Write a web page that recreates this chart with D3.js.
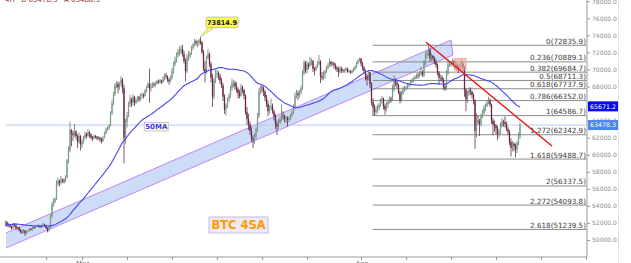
<!DOCTYPE html>
<html><head><meta charset="utf-8">
<script src="https://cdn.jsdelivr.net/npm/d3@7/dist/d3.min.js"></script>
<style>body{margin:0;background:#fff;} svg{display:block;}</style>
</head><body><svg id="c" width="631" height="263"></svg>
<script>
// ---------- data ----------
const startTime = "2024-02-21T12:00:00Z"; // first 4h candle
const open0 = 51900;
const closes = [
52100,51700,51800,
51600,51400,51900,51700,51300,51500,
51200,51000,50900,51100,50800,51000,
51100,51300,51200,51500,51400,51600,
51700,51600,51500,51700,51800,51700,
51400,51100,51500,52800,54200,54500,
54800,56600,56900,56700,57100,57000,
56900,57400,59300,60500,62900,62500,
62300,62700,62200,61500,62200,61200,
61500,62000,62400,62200,62600,62400,
62000,61900,62200,62100,61900,62000,
61800,61600,62000,62500,63000,63100,
63400,64800,66000,67100,68200,68300,
67900,68300,68800,67800,62000,63800,
64600,65900,66500,66100,66800,66100,
66400,66700,66500,66900,67000,66900,
67500,67900,68300,67800,68000,68300,
68200,68400,68600,68500,68700,68500,
68900,69300,69200,68800,68600,69000,
69800,70600,71100,71700,72100,72100,
72400,71800,71000,69800,71500,71500,
71900,72500,72900,73300,73100,73100,
73400,73200,72000,70100,69600,71400,
71800,70600,69000,66800,68700,69500,
69600,69200,68700,68100,66800,65300,
65800,66500,66900,67800,68400,68400,
68000,67700,67200,66900,67900,67600,
66900,65000,64200,63600,62800,61900,
61700,62100,62900,64500,67400,67900,
67800,67400,66700,66000,65100,65500,
65700,65100,64500,63600,63300,63800,
64100,64600,64500,64200,64300,64100,
64300,64600,64900,65500,66900,67200,
67000,67300,67800,69500,70800,69900,
70600,70400,70900,71000,70100,69950,
70300,70700,70900,69200,69000,69450,
69800,70200,70500,70900,70600,70750,
70500,70200,70000,69700,70100,69900,
69800,69900,70100,69700,69800,69650,
69800,70000,70300,70700,71000,71300,
70700,70200,69800,69200,68800,69700,
68300,66200,65500,65000,65300,65450,
65800,66300,66600,65700,65300,65950,
66200,66600,66500,67600,68700,68500,
68200,67300,66400,67200,67700,67800,
67900,68100,68200,68500,68700,68900,
69100,69300,69200,69500,69700,69350,
70900,71700,71900,72300,71300,71600,
71300,70900,70500,69600,69000,69100,
68800,68000,67800,69500,70600,70600,
70600,70900,70500,70600,70300,70000,
70600,70700,70200,67600,66500,67100,
67600,67400,67000,66300,62800,64000,
63900,63600,64500,64900,65500,65700,
66100,66400,65900,64000,63600,63400,
63100,62400,62600,63300,63900,63800,
63600,63000,62700,61500,60800,61300,
61000,60600,61400,62100,63478.3];
const highs = [
52300,52200,52000,
51900,51700,52000,52000,51800,51600,
51600,51300,51200,51300,51200,51100,
51200,51400,51400,51600,51600,51700,
51800,51800,51700,51800,52000,51900,
51800,51500,51700,53000,54500,54900,
55000,57000,57300,57100,57500,57200,
57200,57600,59500,61000,63900,63000,
62800,63600,62900,62400,62600,62300,
61800,62200,62700,62600,63000,62800,
62500,62200,62400,62300,62200,62200,
62100,62000,62200,62700,63200,63300,
63600,65100,66400,67400,68400,68600,
68600,68500,69200,69000,68200,64200,
65000,66200,67000,66700,67100,66900,
66600,66900,66900,67200,67300,67200,
67700,68100,68500,70100,68400,68500,
68500,68600,68800,68800,68900,68800,
69200,69500,69600,69300,69000,69300,
70200,70900,71500,72000,72400,72700,
72800,72900,72200,71300,71800,72200,
72100,72800,73100,73600,73500,73400,
73600,73814.9,73300,72300,71000,71600,
72400,72000,70900,69500,69000,70000,
70000,69800,69500,69000,68400,67100,
66000,66700,67200,68100,68900,68700,
68700,68500,67900,67600,68300,68100,
67700,67100,65600,64800,63900,63200,
62300,62500,63200,64900,67800,68100,
68200,68000,67600,67000,66400,65800,
66600,66000,65300,64800,64000,64200,
64500,65900,65100,64700,64600,64500,
64500,64800,65200,65900,67300,67600,
67500,67600,68100,69900,71100,71000,
71000,70800,71500,71300,71100,70300,
70500,71000,71700,71100,69700,69800,
70000,70400,70800,71300,71000,70900,
70900,70700,70400,70300,70400,70300,
70100,70100,70300,70200,70000,69900,
70000,70200,70500,70900,71200,71400,
71300,70900,70400,70000,69500,69900,
69700,68500,66600,65900,65700,65900,
66100,66600,66900,66700,66000,66200,
66500,66800,66800,68200,69300,69000,
68700,68300,67500,67500,68000,68100,
68100,68300,68400,68800,69000,69100,
69300,69500,69600,69800,70300,69900,
71100,72000,72300,72835.9,72600,71900,
71700,71500,71200,70700,69800,69400,
69300,69000,68400,69900,71200,70900,
71000,71300,71100,71000,70800,70500,
70800,71200,70900,70400,67800,67500,
67900,67900,67500,67200,66500,64900,
64600,64200,64800,65300,65800,66000,
66400,66800,66600,66000,64300,64000,
63600,63400,63000,63800,64300,64100,
64500,63900,63300,62900,61900,61600,
61500,61300,61600,62600,63800];
const lows = [
51600,51500,51500,
51400,51200,51300,51500,51200,51200,
51000,50800,50700,50800,50500,50700,
50900,51000,51100,51100,51300,51300,
51500,51500,51400,51400,51600,51600,
51300,50900,51000,51400,52600,53900,
54300,54700,56300,56300,56500,56700,
56600,56800,57200,59000,60300,61000,
61600,62100,61800,60800,61300,60500,
60800,61300,61800,61900,62100,62000,
61800,61600,61800,61900,61700,61700,
61500,61300,61500,61900,62400,62800,
62900,63300,64700,65800,66900,67800,
67200,67600,68000,67200,59000,61300,
63200,64400,65600,65600,65800,65700,
65900,66200,66200,66300,66600,66600,
66800,67300,67800,66100,67400,67800,
67900,68000,68200,68300,68400,68300,
68400,68700,68900,68500,68200,68500,
68800,69500,70400,70800,71400,71600,
71800,71500,70700,68600,69600,71000,
71300,71700,72300,72700,72800,72600,
72800,72900,71800,69800,68500,69500,
71200,70300,68500,65600,66500,68400,
69000,68800,68300,67800,66300,64800,
64600,65500,66200,66700,67500,67900,
67600,67300,66600,66600,66800,67200,
66500,64700,63500,62900,62300,61500,
60800,61300,61900,62700,64300,67100,
67300,66900,66300,65600,64500,64800,
65200,64800,64000,63000,62300,63000,
63600,63900,64100,63800,63700,63300,
63800,64100,64400,64800,65300,66600,
66400,66700,67100,67600,69300,69600,
69500,70000,70300,70500,69700,69300,
69800,70200,70500,68400,68700,68800,
68900,69600,70000,70300,70300,70400,
70100,69900,69700,69100,69500,69600,
69600,69600,69800,69600,69600,69500,
69500,69700,69900,70200,70600,70900,
70400,69900,69500,68700,68100,68700,
67800,65800,64586.7,64600,64700,64900,
65200,65600,66000,65300,64700,65100,
65500,66000,66100,66300,67400,68000,
67800,67100,66000,66200,67000,67400,
67500,67700,67900,68100,68400,68500,
68800,68900,68900,69100,69300,69100,
69100,70500,71300,71600,70900,71000,
71000,70600,70200,69300,68200,68600,
68500,67600,67500,67600,69300,70300,
70300,70500,70200,70000,69800,69600,
69900,70300,69800,66800,65100,66100,
66900,67000,66600,65900,60700,62000,
63500,62200,63300,64300,64700,65100,
65600,65900,65600,63600,62300,62700,
62400,61700,62000,62400,63200,63300,
63200,62800,62300,61100,59800,60400,
60400,59700,60200,61100,61900];
// 49 closes before the first candle, used to start the 50-period average
const warmupCloses = [
50400,50600,50800,50900,
50500,51000,51300,51600,51900,51800,
51900,52300,52500,51800,52000,51900,
52000,51900,52200,52300,51900,52100,
51900,51700,51300,51000,51400,51600,
51700,51800,52000,52100,52300,52100,
52100,52300,52100,51900,51700,51800,
52100,52400,52200,51200,51500,52300,
51900,51400,51500];
const maPeriod = 50;
const maLastLabel = 65671.2;
const lastPriceLabel = 63478.3;

const yTicks = [50000,52000,54000,56000,58000,60000,62000,64000,66000,68000,70000,72000,74000,76000,78000];
const xTickDates = ["2024-02-26","2024-03-01","2024-03-06","2024-03-11","2024-03-16","2024-03-21","2024-03-26","2024-04-01","2024-04-06","2024-04-11","2024-04-16","2024-04-21","2024-04-26"];
const monthLabelDates = ["2024-03-01","2024-04-01"];
const monthLabelTexts = ["Mar","Apr"];

const fibRatios = ["0","0.236","0.382","0.5","0.618","0.786","1","1.272","1.618","2","2.272","2.618"];
const fibValues = [72835.9,70889.1,69684.7,68711.3,67737.9,66352.0,64586.7,62342.9,59488.7,56337.5,54093.8,51239.5];
const fibStart = "2024-04-02T07:00:00Z";

const channelDates = ["2024-02-21T13:20:00Z","2024-04-11T00:00:00Z"];
const channelUpper = [50821,73455];
const channelLower = [49062,71696];

const trendDates = ["2024-04-08T05:20:00Z","2024-04-22T05:20:00Z"];
const trendValues = [73185,61024];

const boxDates = ["2024-04-11T08:50:00Z","2024-04-12T16:00:00Z"];
const boxValues = [71309,69937];

const peakDate = "2024-03-14T04:00:00Z";
const peakValue = 73814.9;
const maLabelDate = "2024-03-09T06:00:00Z", maLabelValue = 63287;
const titleDate = "2024-03-18T09:20:00Z", titleValue = 51759;

// ---------- scales ----------
const svg = d3.select("#c");
const W = 631, H = 263, axisX = 587, axisY = 257;
const x = d3.scaleUtc().domain([new Date("2024-03-01T00:00:00Z"), new Date("2024-04-01T00:00:00Z")]).range([82, 361]);
const y = d3.scaleLinear().domain([50000, 78000]).range([240, 1.24]);

const t0 = new Date(startTime).getTime();
const H4 = 4*3600*1000;
const candles = closes.map((c,i)=>({t:new Date(t0+i*H4), o: i?closes[i-1]:open0, c, h:highs[i], l:lows[i]}));
const all = warmupCloses.concat(closes);
const ma = closes.map((c,i)=>({t:candles[i].t, v:d3.mean(all.slice(i+warmupCloses.length-maPeriod+1, i+warmupCloses.length+1))}));

svg.append("rect").attr("width",W).attr("height",H).attr("fill","#fff");

// top-left header (cut off)
svg.append("text").attr("x",5).attr("y",1.8).attr("font-family","DejaVu Sans").attr("font-size",7)
  .attr("fill","#9a3434").attr("xml:space","preserve").text("4H   B 63478.3   A 63488.3");

// channel
const cp = [[x(new Date(channelDates[0])), y(channelUpper[0])],[x(new Date(channelDates[1])), y(channelUpper[1])],
            [x(new Date(channelDates[1]))+2, y(channelLower[1])],[x(new Date(channelDates[0])), y(channelLower[0])]];
svg.append("path").attr("d","M"+cp.map(p=>p.join(",")).join("L")+"Z").attr("fill","#cddcf7").attr("stroke","none");
svg.append("path").attr("d",`M${cp[3]}L${cp[2]}L${cp[1]}L${cp[0]}`).attr("fill","none").attr("stroke","#c084f5").attr("stroke-width",1);

// fib lines
const fx0 = x(new Date(fibStart));
const fg = svg.append("g");
fibValues.forEach((v,i)=>{
  fg.append("line").attr("x1",fx0).attr("x2",axisX).attr("y1",y(v)).attr("y2",y(v)).attr("stroke","#8c8c8c").attr("stroke-width",1);
  fg.append("text").attr("x",axisX-1).attr("y",y(v)-1.5).attr("text-anchor","end").attr("font-family","DejaVu Sans")
    .attr("font-size",7.2).attr("fill","#3a3a3a").text(`${fibRatios[i]}(${v.toFixed(1)})`);
});

// last price line
svg.append("line").attr("x1",x(candles[0].t)).attr("x2",axisX).attr("y1",y(lastPriceLabel)).attr("y2",y(lastPriceLabel))
  .attr("stroke","#b4cbf2").attr("stroke-width",1);

// candles
const cg = svg.append("g");
candles.forEach(d=>{
  const up = d.c >= d.o;
  const cx = x(d.t);
  cg.append("line").attr("x1",cx).attr("x2",cx).attr("y1",y(Math.max(d.h,d.o,d.c))).attr("y2",y(Math.min(d.l,d.o,d.c)))
    .attr("stroke", up?"#56765f":"#5e1d3c").attr("stroke-width",0.75);
  const top = y(Math.max(d.o,d.c)), bot = y(Math.min(d.o,d.c));
  cg.append("rect").attr("x",cx-0.65).attr("width",1.3).attr("y",top).attr("height",Math.max(0.8,bot-top))
    .attr("fill", up?"#809f8a":"#6b2247");
});

// 50MA
svg.append("path").datum(ma).attr("d",d3.line().x(d=>x(d.t)).y(d=>y(d.v)).curve(d3.curveMonotoneX))
  .attr("fill","none").attr("stroke","#4646ee").attr("stroke-width",1.1);

// red box
svg.append("rect").attr("x",x(new Date(boxDates[0]))).attr("y",y(boxValues[0]))
  .attr("width",x(new Date(boxDates[1]))-x(new Date(boxDates[0]))).attr("height",y(boxValues[1])-y(boxValues[0]))
  .attr("fill","#f2a292").attr("fill-opacity",0.6).attr("stroke","#e8a0a0").attr("stroke-width",0.8);

// red trend line
svg.append("line").attr("x1",x(new Date(trendDates[0]))).attr("y1",y(trendValues[0]))
  .attr("x2",x(new Date(trendDates[1]))).attr("y2",y(trendValues[1])).attr("stroke","#ee1111").attr("stroke-width",1.4);

// axes lines
svg.append("line").attr("x1",0).attr("x2",axisX).attr("y1",axisY).attr("y2",axisY).attr("stroke","#999");
svg.append("line").attr("x1",axisX).attr("x2",axisX).attr("y1",0).attr("y2",axisY).attr("stroke","#aaa").attr("stroke-width",1.2);
svg.append("line").attr("x1",618.5).attr("x2",618.5).attr("y1",0).attr("y2",H).attr("stroke","#e2e2e2");

const ya = svg.append("g").attr("transform",`translate(${axisX},0)`)
  .call(d3.axisRight(y).tickValues(yTicks).tickSize(3).tickPadding(2).tickFormat(d3.format(".1f")));
ya.select(".domain").remove();
ya.selectAll("line").attr("stroke","#999");
ya.selectAll("text").attr("font-family","DejaVu Sans").attr("font-size",6).attr("fill","#8a8a8a");

const xa = svg.append("g").attr("transform",`translate(0,${axisY})`)
  .call(d3.axisBottom(x).tickValues(xTickDates.map(s=>new Date(s+"T00:00:00Z"))).tickSize(3).tickPadding(1)
    .tickFormat(d=>{const k = monthLabelDates.findIndex(s=>+new Date(s+"T00:00:00Z")===+d); return k>=0?monthLabelTexts[k]:"";}));
xa.select(".domain").remove();
xa.selectAll("line").attr("stroke","#999");
xa.selectAll("text").attr("font-family","DejaVu Sans").attr("font-size",7).attr("fill","#666");

// price boxes
function priceBox(v, fill){
  const g = svg.append("g").attr("transform",`translate(${axisX+1},${y(v)})`);
  g.append("rect").attr("x",0).attr("y",-5).attr("width",30).attr("height",10).attr("fill",fill);
  g.append("text").attr("x",15).attr("y",2.3).attr("text-anchor","middle").attr("font-family","DejaVu Sans")
    .attr("font-size",6.3).attr("fill","#fff").text(v.toFixed(1));
}
priceBox(maLastLabel, "#0a0af0");
priceBox(lastPriceLabel, "#4a86ee");

// peak callout
const px = x(new Date(peakDate)), py = y(peakValue);
svg.append("path").attr("d",`M${px},${py} L${px+8},${py-9.5} L${px+14},${py-9.5} Z`).attr("fill","#ffff44").attr("stroke","#aaa").attr("stroke-width",0.6);
svg.append("rect").attr("x",px+5.5).attr("y",py-19.8).attr("width",32).attr("height",10.5).attr("rx",1.5)
  .attr("fill","#ffff44").attr("stroke","#b0b0b0").attr("stroke-width",0.8);
svg.append("text").attr("x",px+21.5).attr("y",py-12.2).attr("text-anchor","middle").attr("font-family","DejaVu Sans")
  .attr("font-weight","bold").attr("font-size",6.6).attr("fill","#111").text(peakValue.toFixed(1));

// 50MA label
const mx = x(new Date(maLabelDate)), my = y(maLabelValue);
svg.append("rect").attr("x",mx-12).attr("y",my-4.2).attr("width",24).attr("height",8.4)
  .attr("fill","#ffffe0").attr("stroke","#b8b8c8").attr("stroke-width",0.8);
svg.append("text").attr("x",mx).attr("y",my+2.5).attr("text-anchor","middle").attr("font-family","DejaVu Sans")
  .attr("font-weight","bold").attr("font-size",7).attr("fill","#3a3adc").text("50MA");

// BTC 4SA title box
const tx = x(new Date(titleDate)), ty = y(titleValue);
svg.append("rect").attr("x",tx-29.5).attr("y",ty-8).attr("width",59).attr("height",16)
  .attr("fill","#eeeaf6").attr("stroke","#c6bde0").attr("stroke-width",1);
svg.append("text").attr("x",tx).attr("y",ty+4.2).attr("text-anchor","middle").attr("font-family","DejaVu Sans")
  .attr("font-weight","bold").attr("font-size",11.5).attr("fill","#ff9a00").text("BTC 4SA");
</script></body></html>
